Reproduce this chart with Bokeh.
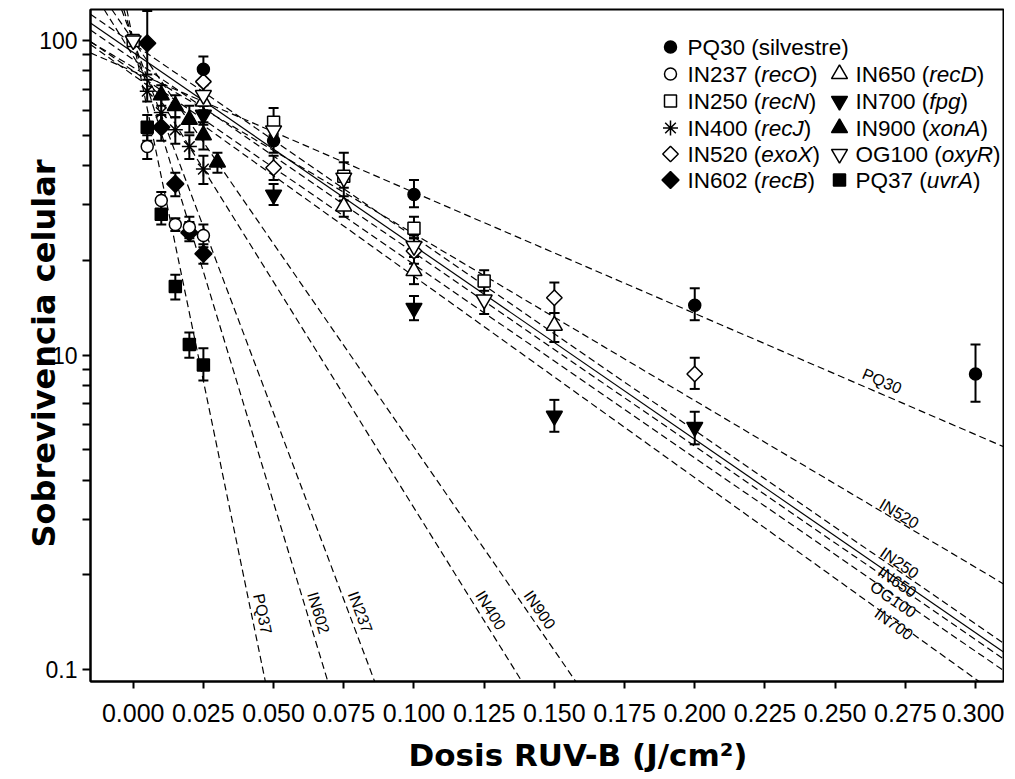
import math
from bokeh.plotting import figure
from bokeh.models import (ColumnDataSource, FixedTicker, CustomJSTickFormatter,
                          Whisker, TeeHead, Range1d)
from bokeh.embed import file_html
from bokeh.resources import INLINE
from bokeh.core.properties import value

# ---------------- data ----------------
pq30_dose = [0.025, 0.05, 0.1, 0.2, 0.3]
pq30_surv = [81, 48, 32.4, 14.4, 8.7]
pq30_hi = [89, 53, 36, 16.3, 10.8]
pq30_lo = [74, 44, 29.5, 12.9, 7.1]

in237_dose = [0.005, 0.01, 0.015, 0.02, 0.025]
in237_surv = [46, 31, 26, 25.5, 24]
in237_hi = [50, 33, 27.2, 27.5, 26]
in237_lo = [42, 29, 24.8, 23.5, 22]

in250_dose = [0, 0.05, 0.075, 0.1, 0.125]
in250_surv = [100, 55, 37, 25.3, 17.2]
in250_hi = [100, 61, 41, 27.5, 18.6]
in250_lo = [100, 50, 34, 23.5, 16.0]

in400_dose = [0.005, 0.01, 0.015, 0.02, 0.025]
in400_surv = [69, 59, 52, 46, 39]
in400_hi = [75, 65, 57, 50, 43]
in400_lo = [64, 53, 47, 42, 35]

in520_dose = [0.025, 0.05, 0.1, 0.15, 0.2]
in520_surv = [74, 39.4, 21.4, 15.2, 8.7]
in520_hi = [80, 43, 23.5, 17.0, 9.8]
in520_lo = [68, 36, 19.5, 13.6, 7.8]

in602_dose = [0.005, 0.01, 0.015, 0.02, 0.025]
in602_surv = [98, 53, 35, 24.5, 21]
in602_hi = [124, 58, 38, 26.5, 22.5]
in602_lo = [78, 48, 32, 23, 19.5]

in650_dose = [0.025, 0.075, 0.1, 0.15]
in650_surv = [64, 29.7, 18.5, 12.4]
in650_hi = [68, 32, 20.5, 13.6]
in650_lo = [60, 27.5, 16.8, 11.0]

in700_dose = [0.025, 0.05, 0.1, 0.15, 0.2]
in700_surv = [58, 32.3, 14.1, 6.4, 5.9]
in700_hi = [62, 35, 15.4, 7.2, 6.6]
in700_lo = [54, 30, 12.9, 5.7, 5.2]

in900_dose = [0.01, 0.015, 0.02, 0.025, 0.03]
in900_surv = [67, 62, 56, 50, 41]
in900_hi = [72, 67, 62, 55, 44]
in900_lo = [62, 57, 51, 45, 38]

og100_dose = [0, 0.025, 0.05, 0.075, 0.1, 0.125]
og100_surv = [100, 67, 51.7, 36.6, 22.2, 15.0]
og100_hi = [100, 72, 56, 44, 24, 16.5]
og100_lo = [100, 62, 48, 31, 20.5, 13.5]

pq37_dose = [0.005, 0.01, 0.015, 0.02, 0.025]
pq37_surv = [53, 28, 16.5, 10.8, 9.3]
pq37_hi = [58, 30.5, 18, 11.8, 10.5]
pq37_lo = [48, 26, 15, 9.8, 8.3]

# regression fits: log10(survival) = intercept + slope * dose
fit_names = ["PQ30", "IN520", "IN250", "", "IN650", "OG100", "IN700",
             "PQ37", "IN602", "IN237", "IN400", "IN900"]
fit_intercepts = [1.902, 1.915, 1.990, 1.962, 1.940, 1.903, 1.890,
                  2.0, 2.0, 2.0, 1.95, 2.0]
fit_slopes = [-3.85, -5.30, -6.15, -6.15, -6.15, -6.15, -6.40,
              -43.3, -29.4, -23.7, -14.36, -12.93]
fit_solid = [False, False, False, True, False, False, False,
             False, False, False, False, False]

x_ticks = [0, 0.025, 0.05, 0.075, 0.1, 0.125, 0.15, 0.175, 0.2, 0.225, 0.25, 0.275, 0.3]
y_ticks = [1, 10, 100]
y_minor = [2, 3, 4, 5, 6, 7, 8, 9, 20, 30, 40, 50, 60, 70, 80, 90]

x_title = "Dosis RUV-B (J/cm²)"
y_title = "Sobrevivencia celular"

legend_col1 = [("PQ30 (", "", "silvestre)"), ("IN237 (", "recO", ")"), ("IN250 (", "recN", ")"),
               ("IN400 (", "recJ", ")"), ("IN520 (", "exoX", ")"), ("IN602 (", "recB", ")")]
legend_col2 = [("IN650 (", "recD", ")"), ("IN700 (", "fpg", ")"), ("IN900 (", "xonA", ")"),
               ("OG100 (", "oxyR", ")"), ("PQ37 (", "uvrA", ")")]

# ---------------- layout ----------------
FW, FH = 913, 672
ML, MT, MR = 90, 9, 1
HEIGHT = 771
MB = HEIGHT - MT - FH
XL = -0.01521
PPU = 2807.7            # px per dose unit
XR = XL + FW / PPU
PPD = 314.5             # px per decade
LTOP = 2 + 31.0 / PPD
LBOT = LTOP - FH / PPD
YMAX, YMIN = 10 ** LTOP, 10 ** LBOT

FONT = "Liberation Sans"
TFONT = "DejaVu Sans"


def px2x(px):       # page px -> dose
    return XL + (px - 8 - ML) / PPU


def py2y(py):       # page px -> survival
    return 10 ** (LTOP - (py - 8 - MT) / PPD)


p = figure(x_range=Range1d(XL, XR), y_range=Range1d(YMIN, YMAX), y_axis_type="log",
           frame_width=FW, frame_height=FH,
           min_border_left=ML, min_border_right=MR, min_border_top=MT, min_border_bottom=MB,
           toolbar_location=None, output_backend="svg")
p.styles = {"margin-bottom": "-8px"}
p.xgrid.visible = False
p.ygrid.visible = False
p.outline_line_color = "black"
p.outline_line_width = 2
p.background_fill_color = "white"
p.border_fill_color = "white"

# axes
xa = p.xaxis[0]
xa.ticker = FixedTicker(ticks=x_ticks)
xa.formatter = CustomJSTickFormatter(code="return tick.toFixed(3);")
xa.axis_line_width = 2
xa.major_tick_line_width = 2
xa.major_tick_out = 7
xa.major_tick_in = 0
xa.minor_tick_line_color = None
xa.major_label_text_font = FONT
xa.major_label_text_font_size = "25px"
xa.major_label_text_color = "black"
xa.major_label_standoff = 15
# leading em-spaces shift the centred title to the right, as in the original
xa.axis_label = "\u2003\u2003" + x_title
xa.axis_label_text_font = TFONT
xa.axis_label_text_font_style = "bold"
xa.axis_label_text_font_size = "31px"
xa.axis_label_text_color = "black"
xa.axis_label_standoff = 12

ya = p.yaxis[0]
ya.ticker = FixedTicker(ticks=y_ticks, minor_ticks=y_minor)
ya.formatter = CustomJSTickFormatter(code="return tick < 5 ? '0.1' : tick.toFixed(0);")
ya.axis_line_width = 2
ya.major_tick_line_width = 2
ya.minor_tick_line_width = 2
ya.major_tick_out = 8
ya.minor_tick_out = 8
ya.major_tick_in = 0
ya.minor_tick_in = 0
ya.major_label_text_font = FONT
ya.major_label_text_font_size = "23px"
ya.major_label_text_color = "black"
ya.major_label_standoff = 5
ya.axis_label = y_title + "\u2002"
ya.axis_label_text_font = TFONT
ya.axis_label_text_font_style = "bold"
ya.axis_label_text_font_size = "32px"
ya.axis_label_text_color = "black"
ya.axis_label_standoff = -27

# regression lines
lmin, lmax = math.log10(YMIN), math.log10(YMAX)
for name, a, b, solid in zip(fit_names, fit_intercepts, fit_slopes, fit_solid):
    x_top = (lmax - a) / b
    x_bot = (lmin - a) / b
    x0 = max(XL, x_top)
    x1 = min(XR, x_bot)
    p.line([x0, x1], [10 ** (a + b * x0), 10 ** (a + b * x1)], line_color="black",
           line_width=1.2, line_dash="solid" if solid else "7 4")

# line labels
label_offsets = {"PQ30": 12, "IN520": 7, "IN250": 7, "IN650": 3, "OG100": -4, "IN700": -3,
                 "PQ37": 11, "IN602": 11, "IN237": 11, "IN400": 11, "IN900": 11}
label_xpos = {"PQ30": 0.265}
lab_x, lab_y, lab_t, lab_a = [], [], [], []
for name, a, b in zip(fit_names, fit_intercepts, fit_slopes):
    if not name:
        continue
    if b > -10:
        xa_ = label_xpos.get(name, 0.2715)
        la = a + b * xa_
    else:
        la = 0.17
        xa_ = (la - a) / b
    th = math.atan(b * PPD / PPU)
    d = label_offsets[name]
    X = xa_ * PPU - d * math.sin(th)
    Y = la * PPD + d * math.cos(th)
    lab_x.append(X / PPU)
    lab_y.append(10 ** (Y / PPD))
    lab_t.append(name)
    lab_a.append(th)
p.text(x=lab_x, y=lab_y, text=lab_t, angle=lab_a, text_align="center",
       text_baseline="middle", text_font=value(FONT), text_font_size="16px", text_color="black")

# series: marker, fill, size, angle
series = [
    ("PQ37", pq37_dose, pq37_surv, pq37_hi, pq37_lo, "square", "black", 12, 0),
    ("IN602", in602_dose, in602_surv, in602_hi, in602_lo, "square", "black", 12, math.pi / 4),
    ("IN237", in237_dose, in237_surv, in237_hi, in237_lo, "circle", "white", 12, 0),
    ("IN400", in400_dose, in400_surv, in400_hi, in400_lo, "asterisk", "black", 15, 0),
    ("IN900", in900_dose, in900_surv, in900_hi, in900_lo, "triangle", "black", 16, 0),
    ("IN700", in700_dose, in700_surv, in700_hi, in700_lo, "inverted_triangle", "black", 16, 0),
    ("IN650", in650_dose, in650_surv, in650_hi, in650_lo, "triangle", "white", 16, 0),
    ("IN520", in520_dose, in520_surv, in520_hi, in520_lo, "square", "white", 11, math.pi / 4),
    ("PQ30", pq30_dose, pq30_surv, pq30_hi, pq30_lo, "circle", "black", 12, 0),
    ("IN250", in250_dose, in250_surv, in250_hi, in250_lo, "square", "white", 12, 0),
    ("OG100", og100_dose, og100_surv, og100_hi, og100_lo, "inverted_triangle", "white", 16, 0),
]
for name, xs, ys, hi, lo, mk, fill, sz, ang in series:
    ex = [x for x, h, l in zip(xs, hi, lo) if h != l]
    eh = [h for h, l in zip(hi, lo) if h != l]
    el = [l for h, l in zip(hi, lo) if h != l]
    src = ColumnDataSource(dict(x=ex, hi=eh, lo=el))
    w = Whisker(source=src, base="x", upper="hi", lower="lo", dimension="height",
                line_color="black", line_width=2,
                upper_head=TeeHead(size=10, line_width=2, line_color="black"),
                lower_head=TeeHead(size=10, line_width=2, line_color="black"))
    p.add_layout(w)
for name, xs, ys, hi, lo, mk, fill, sz, ang in series:
    p.scatter(x=xs, y=ys, marker=mk, size=sz, angle=ang, fill_color=fill, line_color="black",
              line_width=1.5)

# legend (manual, for italic gene names)
LFS = 22.5
W = {' ': 278, '(': 333, ')': 333, '0': 556, '1': 556, '2': 556, '3': 556, '4': 556, '5': 556,
     '6': 556, '7': 556, '8': 556, '9': 556, 'A': 667, 'B': 667, 'D': 722, 'G': 778, 'I': 278,
     'J': 500, 'N': 722, 'O': 778, 'P': 667, 'Q': 778, 'R': 722, 'X': 667, 'a': 556, 'c': 500,
     'e': 556, 'f': 278, 'g': 556, 'i': 222, 'l': 222, 'n': 556, 'o': 556, 'p': 556, 'r': 333,
     's': 500, 't': 278, 'u': 556, 'v': 500, 'x': 500, 'y': 500}


def tw(s):
    return sum(W.get(c, 556) for c in s) * LFS / 1000.0


leg_markers = {"PQ30": ("circle", "black", 12, 0), "IN237": ("circle", "white", 12, 0),
               "IN250": ("square", "white", 12, 0), "IN400": ("asterisk", "black", 15, 0),
               "IN520": ("square", "white", 11, math.pi / 4),
               "IN602": ("square", "black", 12, math.pi / 4),
               "IN650": ("triangle", "white", 16, 0), "IN700": ("inverted_triangle", "black", 16, 0),
               "IN900": ("triangle", "black", 16, 0), "OG100": ("inverted_triangle", "white", 16, 0),
               "PQ37": ("square", "black", 12, 0)}
row_y = [54.5, 81.5, 108.5, 135.5, 161.5, 187.5]
cols = [(678, 695, legend_col1, 0), (847, 863, legend_col2, 1)]
tx_n, ty_n, tt_n, tx_i, ty_i, tt_i = [], [], [], [], [], []
for mx, txs, entries, r0 in cols:
    for k, (pre, ital, post) in enumerate(entries):
        yy = py2y(row_y[k + r0])
        key = pre.split(" ")[0]
        mk, fill, sz, ang = leg_markers[key]
        p.scatter(x=[px2x(mx)], y=[yy], marker=mk, size=sz, angle=ang, fill_color=fill,
                  line_color="black", line_width=1.5)
        x0 = txs
        tx_n.append(px2x(x0)); ty_n.append(yy); tt_n.append(pre)
        x0 += tw(pre)
        if ital:
            tx_i.append(px2x(x0)); ty_i.append(yy); tt_i.append(ital)
            x0 += tw(ital)
        tx_n.append(px2x(x0)); ty_n.append(yy); tt_n.append(post)
p.text(x=tx_n, y=ty_n, text=tt_n, text_align="left", text_baseline="middle",
       text_font=value(FONT), text_font_size=f"{LFS}px", text_color="black")
p.text(x=tx_i, y=ty_i, text=tt_i, text_align="left", text_baseline="middle",
       text_font=value(FONT), text_font_style="italic", text_font_size=f"{LFS}px",
       text_color="black")

open("out.html", "w").write(file_html(p, INLINE))
